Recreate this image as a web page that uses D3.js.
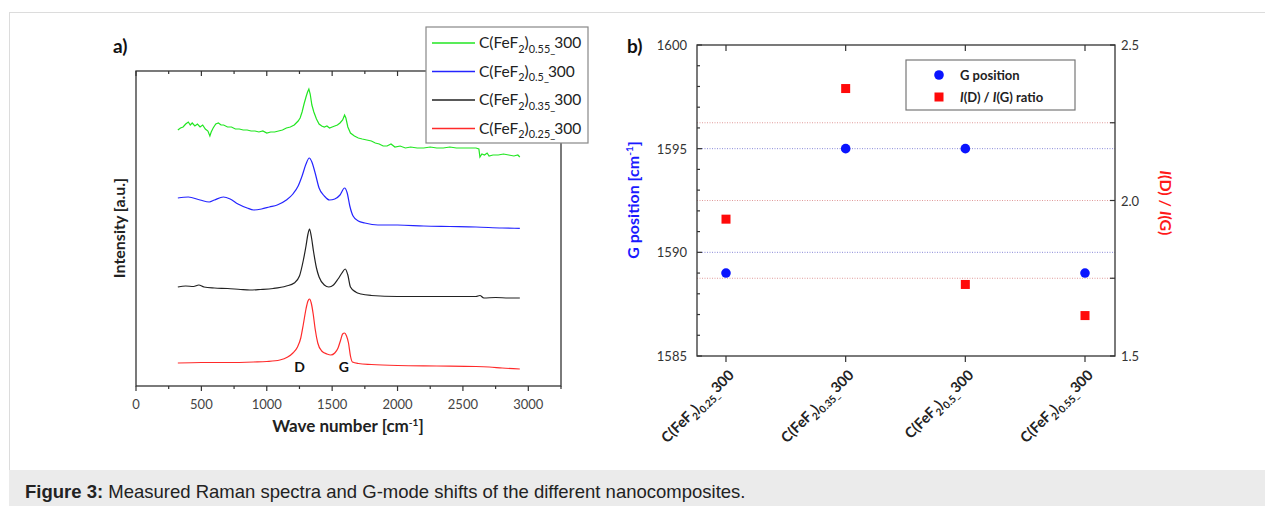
<!DOCTYPE html>
<html>
<head>
<meta charset="utf-8">
<script src="https://cdn.jsdelivr.net/npm/d3@7"></script>
<style>
  body { margin: 0; background: #fff; }
  svg { display: block; font-family: Lato, "Open Sans", sans-serif; }
</style>
</head>
<body>
<div id="chart"></div>
<script>
// Panel a: Raman spectra (intensity in a.u., stacked with offsets)
const redWave = [320, 500, 700, 900, 1000, 1100, 1160, 1200, 1235, 1260, 1280, 1300, 1315, 1327, 1340, 1355, 1370, 1390, 1420, 1460, 1490, 1520, 1545, 1565, 1580, 1595, 1610, 1625, 1640, 1655, 1700, 1800, 2000, 2300, 2600, 2700, 2800, 2935];
const redInt = [23, 23.5, 23.5, 24, 24.5, 26, 29, 33, 39, 48, 62, 77, 85, 87, 83, 72, 57, 43, 35, 32, 31, 33, 38, 46, 52, 53, 50, 43, 30, 24, 22.5, 21.5, 20.5, 20, 19.5, 19, 18, 17];

const blackWave = [320, 380, 440, 480, 520, 600, 700, 800, 870, 950, 1050, 1150, 1210, 1250, 1280, 1300, 1315, 1327, 1340, 1357, 1380, 1400, 1440, 1475, 1510, 1545, 1575, 1600, 1620, 1640, 1680, 1720, 1800, 2000, 2200, 2400, 2600, 2630, 2660, 2750, 2850, 2935];
const blackInt = [99, 100, 99.5, 101, 99, 98, 97.5, 96.5, 96, 96.5, 97.5, 100, 103, 110, 126, 140, 152, 157, 150, 135, 118, 109, 101, 99, 101, 107, 113, 117, 111, 99, 94, 92, 90.5, 89.5, 89.5, 89.5, 89.5, 90.5, 88, 88.5, 88, 88];

const blueWave = [320, 400, 490, 560, 600, 668, 720, 780, 850, 900, 960, 1020, 1080, 1150, 1200, 1240, 1270, 1300, 1325, 1345, 1370, 1400, 1440, 1480, 1520, 1560, 1595, 1615, 1635, 1660, 1700, 1750, 1850, 2000, 2200, 2400, 2600, 2800, 2935];
const blueInt = [188, 189, 186, 184, 186, 189, 187, 182, 178, 176, 177, 179, 181, 186, 192, 200, 210, 222, 228, 224, 213, 198, 190, 186, 187, 191, 198, 193, 180, 170, 165, 163, 161, 161, 160, 159.5, 159, 158, 157.7];

const greenWave = [320, 340, 360, 380, 400, 415, 430, 450, 470, 490, 510, 530, 550, 565, 575, 590, 610, 630, 650, 670, 700, 730, 760, 790, 820, 850, 880, 910, 940, 970, 1000, 1030, 1060, 1090, 1120, 1150, 1180, 1210, 1240, 1255, 1270, 1285, 1300, 1312, 1322, 1332, 1345, 1360, 1380, 1400, 1420, 1440, 1460, 1480, 1500, 1520, 1540, 1560, 1580, 1595, 1605, 1620, 1640, 1670, 1700, 1730, 1765, 1800, 1830, 1860, 1890, 1920, 1950, 1980, 2020, 2060, 2100, 2150, 2200, 2250, 2300, 2350, 2400, 2450, 2500, 2550, 2600, 2622, 2630, 2645, 2665, 2685, 2700, 2730, 2770, 2810, 2850, 2890, 2920, 2935];
const greenInt = [256, 258, 259, 262, 264, 261, 263, 260, 262, 259, 261, 257, 255, 250, 254, 258, 262, 263, 261, 261, 259, 259, 257, 257, 256, 256, 255, 255, 254, 255, 253, 254, 254, 255, 256, 258, 259, 261, 265, 268, 274, 282, 289, 294, 297, 292, 281, 274, 267, 262, 260, 259, 260, 258, 259, 260, 261, 263, 266, 271, 268, 259, 253, 250, 248, 247, 246, 245, 243, 242, 240, 240, 242, 239, 240, 238, 239, 238, 238, 239, 238, 238, 239, 238, 238, 238, 238, 237, 229, 232, 231, 233, 230, 231, 231, 232, 231, 230, 231, 229];

const spectraNames = ["0.55", "0.5", "0.35", "0.25"];
const spectraColors = ["#22e622", "#2424ff", "#222222", "#ff2a2a"];
const waveTicks = [0, 500, 1000, 1500, 2000, 2500, 3000];

// Panel b: G position and I(D)/I(G)
const samples = ["0.25", "0.35", "0.5", "0.55"];
const gPosition = [1589, 1595, 1595, 1589];
const ratioDG = [1.94, 2.36, 1.73, 1.63];
const leftTicks = [1585, 1590, 1595, 1600];
const rightTicks = [1.5, 2.0, 2.5];

const W = 1265, H = 506;
const svg = d3.select("#chart").append("svg").attr("width", W).attr("height", H);

// figure frame + caption band
svg.append("rect").attr("x", 9.5).attr("y", 12.5).attr("width", W).attr("height", 460)
  .attr("fill", "#fff").attr("stroke", "#dcdcdc");
svg.append("rect").attr("x", 9).attr("y", 470).attr("width", W).attr("height", 36).attr("fill", "#ebebeb");
const cap = svg.append("text").attr("x", 25).attr("y", 498)
  .style("font-family", "'Liberation Sans', Arial, sans-serif").style("font-size", "18.5px").attr("fill", "#222");
cap.append("tspan").attr("font-weight", "bold").text("Figure 3:");
cap.append("tspan").text(" Measured Raman spectra and G-mode shifts of the different nanocomposites.");

// helper for "C(FeF2)x_300" labels, subscripts done with dy
function sampleLabel(sel, x, fs) {
  const d = fs * 0.3;
  sel.append("tspan").text("C(FeF");
  sel.append("tspan").attr("dy", d).attr("font-size", fs * 0.7).text("2");
  sel.append("tspan").attr("dy", -d).text(")");
  sel.append("tspan").attr("dy", d).attr("font-size", fs * 0.7).text(x + "_");
  sel.append("tspan").attr("dy", -d).attr("dx", -1).text("300");
}

// ---------- panel a ----------
const xA = d3.scaleLinear().domain([0, 3250]).range([136, 561]);
const yA = d3.scaleLinear().domain([0, 315]).range([386, 71]);
const ink = "#333";

const spectra = [
  { wave: greenWave, val: greenInt, curve: d3.curveLinear },
  { wave: blueWave, val: blueInt, curve: d3.curveMonotoneX },
  { wave: blackWave, val: blackInt, curve: d3.curveMonotoneX },
  { wave: redWave, val: redInt, curve: d3.curveMonotoneX }
];
spectra.forEach((s, i) => {
  const line = d3.line().x(d => xA(d[0])).y(d => yA(d[1])).curve(s.curve);
  svg.append("path")
    .datum(s.wave.map((w, j) => [w, s.val[j]]))
    .attr("d", line).attr("fill", "none")
    .attr("stroke", spectraColors[i]).attr("stroke-width", 1.2);
});

// frame
svg.append("rect").attr("x", xA(0)).attr("y", yA(315))
  .attr("width", xA(3250) - xA(0)).attr("height", yA(0) - yA(315))
  .attr("fill", "none").attr("stroke", ink).attr("stroke-width", 1.3);

const minorA = d3.range(0, 3251, 250);
svg.append("g").selectAll("line.bt").data(minorA).join("line")
  .attr("x1", d => xA(d)).attr("x2", d => xA(d))
  .attr("y1", yA(0)).attr("y2", d => yA(0) + (d % 500 === 0 ? 5 : 3))
  .attr("stroke", ink).attr("stroke-width", 1.2);
svg.append("g").selectAll("line.tt").data(minorA).join("line")
  .attr("x1", d => xA(d)).attr("x2", d => xA(d))
  .attr("y1", yA(315)).attr("y2", d => yA(315) + (d % 500 === 0 ? 5 : 3))
  .attr("stroke", ink).attr("stroke-width", 1.2);
svg.append("g").selectAll("text").data(waveTicks).join("text")
  .attr("x", d => xA(d)).attr("y", 409).attr("text-anchor", "middle")
  .attr("font-size", 13).attr("fill", "#444").text(d => d);

svg.append("text").attr("x", 348).attr("y", 432).attr("text-anchor", "middle")
  .attr("font-size", 17).attr("font-weight", "bold").attr("fill", "#222")
  .call(t => {
    t.append("tspan").text("Wave number [cm");
    t.append("tspan").attr("dy", -6).attr("font-size", 10).text("-1");
    t.append("tspan").attr("dy", 6).text("]");
  });
svg.append("text").attr("transform", "translate(125,228) rotate(-90)").attr("text-anchor", "middle")
  .attr("font-size", 16).attr("font-weight", "bold").attr("fill", "#222").text("Intensity [a.u.]");
svg.append("text").attr("x", 113).attr("y", 53).attr("font-size", 19).attr("font-weight", "bold")
  .attr("fill", "#111").text("a)");

svg.append("text").attr("x", xA(1250)).attr("y", 372).attr("text-anchor", "middle")
  .attr("font-size", 14).attr("font-weight", "bold").attr("fill", "#111").text("D");
svg.append("text").attr("x", xA(1590)).attr("y", 372).attr("text-anchor", "middle")
  .attr("font-size", 14).attr("font-weight", "bold").attr("fill", "#111").text("G");

// legend a
const legA = svg.append("g");
legA.append("rect").attr("x", 426).attr("y", 27).attr("width", 162).attr("height", 116)
  .attr("fill", "#fff").attr("stroke", "#888").attr("stroke-width", 1.2);
spectraNames.forEach((n, i) => {
  const yy = 43 + i * 28.5;
  legA.append("line").attr("x1", 432).attr("x2", 475).attr("y1", yy).attr("y2", yy)
    .attr("stroke", spectraColors[i]).attr("stroke-width", 1.3);
  legA.append("text").attr("x", 479).attr("y", yy + 5).attr("font-size", 15.5).attr("fill", "#222")
    .call(t => sampleLabel(t, n, 15.5));
});

// ---------- panel b ----------
const xB = d3.scalePoint().domain(samples).range([726, 1085]);
const yL = d3.scaleLinear().domain([1585, 1600]).range([356, 45]);
const yR = d3.scaleLinear().domain([1.5, 2.5]).range([356, 45]);
const bx0 = 697, bx1 = 1115;

// dotted grid
[1590, 1595].forEach(v => svg.append("line").attr("x1", bx0).attr("x2", bx1)
  .attr("y1", yL(v)).attr("y2", yL(v)).attr("stroke", "#8a8ad8").attr("stroke-width", 1)
  .attr("stroke-dasharray", "1,1.5"));
[1.75, 2.0, 2.25].forEach(v => svg.append("line").attr("x1", bx0).attr("x2", bx1)
  .attr("y1", yR(v)).attr("y2", yR(v)).attr("stroke", "#e09a9a").attr("stroke-width", 1)
  .attr("stroke-dasharray", "1,1.5"));

svg.append("rect").attr("x", bx0).attr("y", 45).attr("width", bx1 - bx0).attr("height", 311)
  .attr("fill", "none").attr("stroke", ink).attr("stroke-width", 1.3);

// left ticks (inward)
svg.append("g").selectAll("line").data(d3.range(1585, 1601, 1)).join("line")
  .attr("x1", bx0).attr("x2", d => bx0 + (d % 5 === 0 ? 5 : 3))
  .attr("y1", d => yL(d)).attr("y2", d => yL(d)).attr("stroke", ink).attr("stroke-width", 1.2);
svg.append("g").selectAll("text").data(leftTicks).join("text")
  .attr("x", 687).attr("y", d => yL(d) + 5).attr("text-anchor", "end")
  .attr("font-size", 13).attr("fill", "#333").text(d => d);
// right ticks (inward)
svg.append("g").selectAll("line").data([1.5, 1.75, 2.0, 2.25, 2.5]).join("line")
  .attr("x1", bx1).attr("x2", d => bx1 - 5)
  .attr("y1", d => yR(d)).attr("y2", d => yR(d)).attr("stroke", ink).attr("stroke-width", 1.2);
svg.append("g").selectAll("text").data(rightTicks).join("text")
  .attr("x", 1121).attr("y", d => yR(d) + 5)
  .attr("font-size", 13).attr("fill", "#333").text(d => d.toFixed(1));
// top/bottom category ticks
svg.append("g").selectAll("line").data(samples).join("line")
  .attr("x1", d => xB(d)).attr("x2", d => xB(d)).attr("y1", 45).attr("y2", 51)
  .attr("stroke", ink).attr("stroke-width", 1.2);
svg.append("g").selectAll("line").data(samples).join("line")
  .attr("x1", d => xB(d)).attr("x2", d => xB(d)).attr("y1", 356).attr("y2", 362)
  .attr("stroke", ink).attr("stroke-width", 1.2);
svg.append("g").selectAll("text").data(samples).join("text")
  .attr("transform", d => `translate(${xB(d) + 9},376) rotate(-45)`)
  .attr("text-anchor", "end").attr("font-size", 14.5).attr("font-weight", "bold").attr("fill", "#222")
  .each(function(d) { sampleLabel(d3.select(this), d, 14.5); });

// points
svg.append("g").selectAll("circle").data(samples).join("circle")
  .attr("cx", d => xB(d)).attr("cy", (d, i) => yL(gPosition[i])).attr("r", 4.8).attr("fill", "#0a14ff");
svg.append("g").selectAll("rect").data(samples).join("rect")
  .attr("x", d => xB(d) - 4.5).attr("y", (d, i) => yR(ratioDG[i]) - 4.5)
  .attr("width", 9).attr("height", 9).attr("fill", "#ff0a0a");

// axis titles
svg.append("text").attr("transform", "translate(639,200) rotate(-90)").attr("text-anchor", "middle")
  .attr("font-size", 16).attr("font-weight", "bold").attr("fill", "#1a1aff")
  .call(t => {
    t.append("tspan").text("G position [cm");
    t.append("tspan").attr("dy", -6).attr("font-size", 10).text("-1");
    t.append("tspan").attr("dy", 6).text("]");
  });
svg.append("text").attr("transform", "translate(1160,203) rotate(90)").attr("text-anchor", "middle")
  .attr("font-size", 16).attr("font-weight", "bold").attr("fill", "#ff1a1a")
  .call(t => {
    t.append("tspan").attr("font-style", "italic").text("I");
    t.append("tspan").text("(D) / ");
    t.append("tspan").attr("font-style", "italic").text("I");
    t.append("tspan").text("(G)");
  });
svg.append("text").attr("x", 627).attr("y", 53).attr("font-size", 19).attr("font-weight", "bold")
  .attr("fill", "#111").text("b)");

// legend b
const legB = svg.append("g");
legB.append("rect").attr("x", 906).attr("y", 60).attr("width", 169).attr("height", 50)
  .attr("fill", "#fff").attr("stroke", "#777").attr("stroke-width", 1.2);
legB.append("circle").attr("cx", 939).attr("cy", 75).attr("r", 4.8).attr("fill", "#0a14ff");
legB.append("rect").attr("x", 934.5).attr("y", 92.5).attr("width", 9).attr("height", 9).attr("fill", "#ff0a0a");
legB.append("text").attr("x", 960).attr("y", 79.5).attr("font-size", 13).attr("font-weight", "bold")
  .attr("fill", "#222").text("G position");
legB.append("text").attr("x", 960).attr("y", 101.5).attr("font-size", 13).attr("font-weight", "bold")
  .attr("fill", "#222")
  .call(t => {
    t.append("tspan").attr("font-style", "italic").text("I");
    t.append("tspan").text("(D) / ");
    t.append("tspan").attr("font-style", "italic").text("I");
    t.append("tspan").text("(G) ratio");
  });
</script>
</body>
</html>
